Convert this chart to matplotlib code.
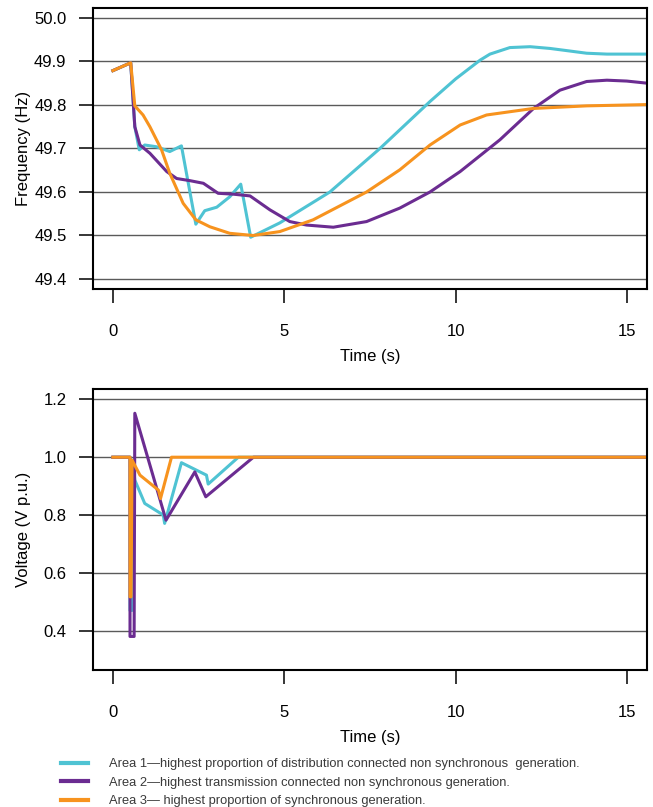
#!/usr/bin/env python3

import matplotlib.pyplot as plt

# Frequency traces (time in s, frequency in Hz)
t_area1 = [0, 0.52, 0.64, 0.77, 0.93, 1.27, 1.66, 2.0, 2.42, 2.68, 3.03, 3.41, 3.73,
           4.02, 4.87, 6.33, 7.79, 9.25, 10.0, 10.71, 11.0, 11.58, 12.17, 12.75,
           13.24, 13.82, 14.41, 15.6]
f_area1 = [49.879, 49.897, 49.750, 49.697, 49.708, 49.704, 49.693, 49.706, 49.526,
           49.557, 49.565, 49.589, 49.618, 49.496, 49.529, 49.600, 49.700, 49.808,
           49.860, 49.903, 49.917, 49.932, 49.934, 49.930, 49.925, 49.919, 49.917,
           49.917]

t_area2 = [0, 0.52, 0.64, 0.79, 1.08, 1.57, 1.86, 2.25, 2.64, 3.07, 3.51, 4.0, 4.58,
           5.16, 5.65, 6.43, 7.40, 8.37, 9.25, 10.13, 11.29, 12.27, 13.04, 13.82,
           14.41, 14.99, 15.6]
f_area2 = [49.879, 49.897, 49.750, 49.708, 49.689, 49.647, 49.631, 49.626, 49.620,
           49.597, 49.595, 49.591, 49.559, 49.532, 49.524, 49.519, 49.532, 49.563,
           49.600, 49.647, 49.720, 49.792, 49.834, 49.854, 49.857, 49.855, 49.850]

t_area3 = [0, 0.52, 0.64, 0.88, 1.08, 1.42, 1.66, 2.05, 2.42, 2.83, 3.41, 4.09, 4.87,
           5.84, 7.40, 8.37, 9.25, 10.13, 10.9, 12.26, 13.82, 15.6]
f_area3 = [49.879, 49.897, 49.798, 49.777, 49.750, 49.697, 49.643, 49.574, 49.536,
           49.520, 49.505, 49.500, 49.509, 49.536, 49.600, 49.651, 49.708, 49.754,
           49.777, 49.792, 49.798, 49.801]

# Voltage traces (time in s, voltage in p.u.)
vt_area1 = [0, 0.5, 0.5, 0.56, 0.58, 0.64, 0.93, 1.47, 1.51, 2.0, 2.44, 2.73, 2.78,
            3.66, 15.6]
v_area1 = [1.0, 1.0, 0.47, 0.47, 0.99, 0.921, 0.840, 0.80, 0.771, 0.981, 0.955,
           0.938, 0.907, 1.0, 1.0]

vt_area2 = [0, 0.5, 0.5, 0.62, 0.64, 1.55, 2.39, 2.71, 4.1, 15.6]
v_area2 = [1.0, 1.0, 0.38, 0.38, 1.152, 0.782, 0.949, 0.863, 1.0, 1.0]

vt_area3 = [0, 0.5, 0.5, 0.53, 0.56, 0.79, 1.33, 1.39, 1.71, 15.6]
v_area3 = [1.0, 1.0, 0.517, 0.517, 0.99, 0.938, 0.886, 0.857, 1.0, 1.0]

labels = [
    "Area 1\u2014highest proportion of distribution connected non synchronous  generation.",
    "Area 2\u2014highest transmission connected non synchronous generation.",
    "Area 3\u2014 highest proportion of synchronous generation.",
]
x_ticks = [0, 5, 10, 15]
f_ticks = [49.4, 49.5, 49.6, 49.7, 49.8, 49.9, 50.0]
v_ticks = [0.4, 0.6, 0.8, 1.0, 1.2]

plt.rcParams['font.family'] = ['Liberation Sans', 'DejaVu Sans']

c1 = "#4FC3D3"
c2 = "#6B2C91"
c3 = "#F7931E"
lw = 2.2


def style_axes(ax, yticks, fmt):
    ax.set_xlim(-0.58, 15.58)
    ax.set_xticks(x_ticks)
    ax.set_yticks(yticks)
    ax.set_yticklabels([fmt % v for v in yticks])
    ax.grid(axis="y", color="#5a5a5a", linewidth=1.0)
    ax.set_axisbelow(True)
    for s in ax.spines.values():
        s.set_linewidth(1.5)
    ax.tick_params(axis="both", direction="out", length=10, width=1.1,
                   labelsize=12, colors="black")
    ax.tick_params(axis="x", pad=15.5)
    ax.tick_params(axis="y", pad=9)
    ax.set_xlabel("Time (s)", fontsize=12)
    ax.xaxis.set_label_coords(0.5, -0.213)


fig = plt.figure(figsize=(6.53, 8.07), dpi=100)
ax1 = fig.add_axes([0.1424, 0.6419, 0.8484, 0.3482])
ax2 = fig.add_axes([0.1424, 0.1698, 0.8484, 0.3482])

# Frequency panel
l1, = ax1.plot(t_area1, f_area1, color=c1, lw=lw)
l2, = ax1.plot(t_area2, f_area2, color=c2, lw=lw)
l3, = ax1.plot(t_area3, f_area3, color=c3, lw=lw)
ax1.set_ylim(49.377, 50.023)
style_axes(ax1, f_ticks, "%.1f")
ax1.set_ylabel("Frequency (Hz)", fontsize=12)
ax1.yaxis.set_label_coords(-0.111, 0.5)

# Voltage panel
ax2.plot(vt_area1, v_area1, color=c1, lw=lw)
ax2.plot(vt_area2, v_area2, color=c2, lw=lw)
ax2.plot(vt_area3, v_area3, color=c3, lw=lw)
ax2.set_ylim(0.264, 1.236)
style_axes(ax2, v_ticks, "%.1f")
ax2.set_ylabel("Voltage (V p.u.)", fontsize=12)
ax2.yaxis.set_label_coords(-0.111, 0.5)

## Legend under both panels
leg = fig.legend([l1, l2, l3], labels, loc="upper left",
                 bbox_to_anchor=(0.0934, 0.0605), frameon=False,
                 handlelength=2.1, handletextpad=1.6, labelspacing=0.5,
                 borderpad=0, borderaxespad=0,
                 prop={"family": ["Liberation Sans"], "size": 9.3})
for txt in leg.get_texts():
    txt.set_color("#3a3a3a")
for h in leg.legend_handles:
    h.set_linewidth(3)

fig.savefig("out.png", dpi=100)
